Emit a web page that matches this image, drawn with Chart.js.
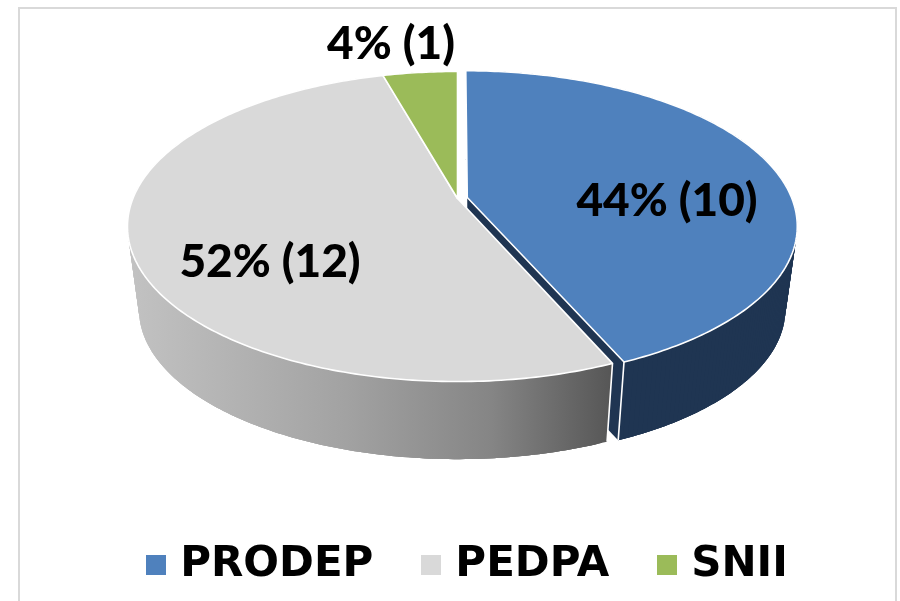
<!DOCTYPE html>
<html>
<head>
<meta charset="utf-8">
<style>html,body{margin:0;padding:0;background:#fff}canvas{display:block}</style>
<script src="https://cdn.jsdelivr.net/npm/chart.js@4"></script>
</head>
<body>
<canvas id="c" width="900" height="601"></canvas>
<script>
const categories = ['PRODEP', 'PEDPA', 'SNII'];
const counts = [10, 12, 1];
const sliceLabels = ['44% (10)', '52% (12)', '4% (1)'];
const topColors = ['#4f81bd', '#d9d9d9', '#9bbb59'];
const wallColors = ['#1f3552', '#8f8f8f', '#5e7330'];
const explode = [10, 0, 0];
const labelSpots = [[667, 201], [270, 262], [391, 44]];

const LABEL_FONT = '"Lato", "Open Sans", sans-serif';
const LEGEND_FONT = '"DejaVu Sans", sans-serif';
const view = {x: 457.5, y: 198.5, rx: 324.6, ry: 150, c: -0.1806, drop: 84, shrink: 0.965};

function plane(el, angle, radius) {
  const off = (el.options.offset || 0) / view.rx;
  const mid = (el.startAngle + el.endAngle) / 2;
  return [Math.cos(angle) * radius + Math.cos(mid) * off,
          Math.sin(angle) * radius + Math.sin(mid) * off];
}
function project(p, low) {
  const d = 1 + view.c * p[1];
  const s = low ? view.shrink : 1;
  return [view.x + view.rx * p[0] / d * s,
          view.y + view.ry * p[1] / d * s + (low ? view.drop : 0)];
}
function rimAngles(el) {
  const out = [];
  const n = Math.max(2, Math.ceil((el.endAngle - el.startAngle) / 0.015));
  for (let i = 0; i <= n; i++) out.push(el.startAngle + (el.endAngle - el.startAngle) * i / n);
  return out;
}
function polygon(ctx, pts) {
  ctx.beginPath();
  pts.forEach((q, k) => k ? ctx.lineTo(q[0], q[1]) : ctx.moveTo(q[0], q[1]));
  ctx.closePath();
}

Chart.ArcElement.prototype.draw = function (ctx) {
  ctx.save();
  const pts = [project(plane(this, 0, 0))];
  rimAngles(this).forEach(t => pts.push(project(plane(this, t, 1))));
  polygon(ctx, pts);
  ctx.fillStyle = this.options.backgroundColor;
  ctx.fill();
  ctx.strokeStyle = '#ffffff';
  ctx.lineWidth = 1.6;
  ctx.lineJoin = 'round';
  ctx.stroke();
  ctx.restore();
};

const depthPlugin = {
  id: 'depth',
  beforeDraw(chart) {
    const ctx = chart.ctx;
    ctx.save();
    ctx.strokeStyle = '#d9d9d9';
    ctx.lineWidth = 2;
    ctx.beginPath();
    ctx.moveTo(19, 601); ctx.lineTo(19, 8); ctx.lineTo(896, 8); ctx.lineTo(896, 601);
    ctx.stroke();
    ctx.restore();
  },
  beforeDatasetsDraw(chart) {
    const ctx = chart.ctx;
    const arcs = chart.getDatasetMeta(0).data;
    ctx.save();
    arcs.forEach((el, i) => {
      let fill = wallColors[i];
      if (i === 1) {
        const g = ctx.createLinearGradient(130, 0, 612, 0);
        g.addColorStop(0, '#c2c2c2');
        g.addColorStop(0.45, '#a2a2a2');
        g.addColorStop(0.75, '#858585');
        g.addColorStop(1, '#565656');
        fill = g;
      }
      ctx.fillStyle = fill;
      const A = plane(el, 0, 0), E = plane(el, el.endAngle, 1);
      // cut face at the slice's closing edge
      polygon(ctx, [project(A), project(E), project(E, true), project(A, true)]);
      ctx.fill();
      // outer wall: overlapping strips so no seams show
      const ts = rimAngles(el);
      const upper = ts.map(t => project(plane(el, t, 1)));
      const lower = ts.map(t => project(plane(el, t, 1), true));
      for (let k = 0; k < ts.length - 1; k++) {
        const e = Math.min(k + 3, ts.length - 1);
        const strip = upper.slice(k, e + 1).concat(lower.slice(k, e + 1).reverse());
        polygon(ctx, strip);
        ctx.fill();
      }
      // white seam at the wall ends
      ctx.strokeStyle = '#ffffff';
      ctx.lineWidth = 1.6;
      [el.startAngle, el.endAngle].forEach(t => {
        const P = plane(el, t, 1);
        polygon(ctx, [project(P), project(P, true)]);
        ctx.stroke();
      });
    });
    ctx.restore();
  },
  afterDatasetsDraw(chart) {
    const ctx = chart.ctx;
    ctx.save();
    ctx.fillStyle = '#000000';
    ctx.font = '900 46px ' + LABEL_FONT;
    ctx.textAlign = 'center';
    ctx.textBaseline = 'middle';
    sliceLabels.forEach((t, i) => ctx.fillText(t, labelSpots[i][0], labelSpots[i][1]));
    ctx.restore();
  }
};

function swatch(color) {
  const s = document.createElement('canvas');
  s.width = 20; s.height = 20;
  const x = s.getContext('2d');
  x.fillStyle = color;
  x.fillRect(0, 0, 20, 20);
  return s;
}

new Chart(document.getElementById('c'), {
  type: 'pie',
  data: {
    labels: categories,
    datasets: [{data: counts, backgroundColor: topColors, borderWidth: 0, offset: explode}]
  },
  options: {
    responsive: false,
    animation: false,
    layout: {padding: {left: 41, bottom: 5}},
    plugins: {
      tooltip: {enabled: false},
      legend: {
        position: 'bottom',
        labels: {
          usePointStyle: true,
          pointStyleWidth: 6,
          boxHeight: 20,
          padding: 55,
          color: '#000000',
          font: {family: LEGEND_FONT, size: 42, weight: 'bold'},
          generateLabels: chart => categories.map((name, i) => ({
            text: name,
            fillStyle: topColors[i],
            strokeStyle: topColors[i],
            lineWidth: 0,
            pointStyle: swatch(topColors[i]),
            hidden: false,
            index: i
          }))
        }
      }
    }
  },
  plugins: [depthPlugin]
});
</script>
</body>
</html>
